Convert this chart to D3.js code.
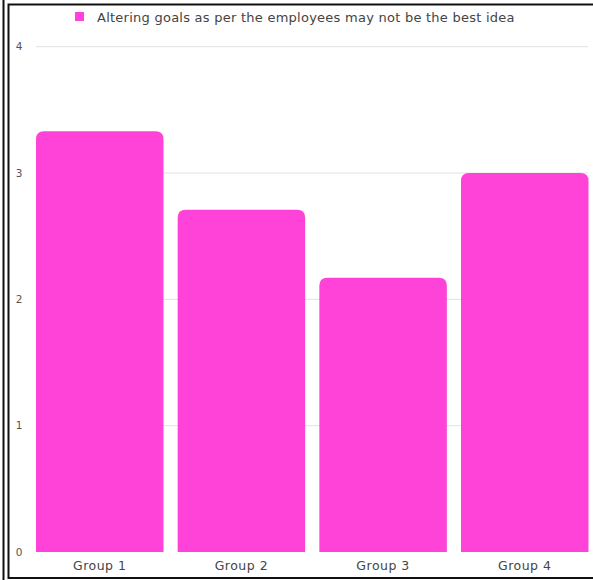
<!DOCTYPE html>
<html><head><meta charset="utf-8">
<script src="https://cdn.jsdelivr.net/npm/d3@7"></script>
<style>html,body{margin:0;padding:0;background:#fff;}svg{display:block;}</style>
</head><body>
<script>
const categories = ["Group 1", "Group 2", "Group 3", "Group 4"];
const values = [3.33, 2.71, 2.17, 3.0];
const seriesName = "Altering goals as per the employees may not be the best idea";
const yTicks = [0, 1, 2, 3, 4];

const W = 593, H = 580;
const FONT = "DejaVu Sans, Verdana, sans-serif";
const svg = d3.select("body").append("svg").attr("width", W).attr("height", H);

// borders
svg.append("line").attr("x1", 3.5).attr("x2", 3.5).attr("y1", 0).attr("y2", H).attr("stroke", "#111").attr("stroke-width", 2);
svg.append("path").attr("d", `M${W + 5},4.5 H8.5 V578 H${W + 5}`).attr("fill", "none").attr("stroke", "#111").attr("stroke-width", 2);

const x = d3.scaleBand().domain(categories).range([36, 588.5]).paddingInner(0.1).paddingOuter(0);
const y = d3.scaleLinear().domain([0, 4]).range([552, 46.7]);

// gridlines
svg.append("g").selectAll("line").data(yTicks.filter(d => d > 0)).join("line")
  .attr("x1", 36).attr("x2", 588).attr("y1", d => y(d)).attr("y2", d => y(d))
  .attr("stroke", "#e2e2e2").attr("stroke-width", 1);

// y labels
svg.append("g").selectAll("text").data(yTicks).join("text")
  .attr("x", 19).attr("y", d => y(d)).attr("dy", "0.35em").attr("text-anchor", "middle")
  .attr("font-family", FONT).attr("font-size", 10.5).attr("fill", "#555")
  .text(d => d);

// bars with rounded tops
const r = 8;
svg.append("g").selectAll("path").data(categories).join("path")
  .attr("d", (c, i) => {
    const x0 = x(c), w = x.bandwidth(), y0 = y(values[i]), yb = y(0);
    return `M${x0},${yb} V${y0 + r} Q${x0},${y0} ${x0 + r},${y0} H${x0 + w - r} Q${x0 + w},${y0} ${x0 + w},${y0 + r} V${yb} Z`;
  })
  .attr("fill", "#ff42d8");

// x labels
svg.append("g").selectAll("text").data(categories).join("text")
  .attr("x", c => x(c) + x.bandwidth() / 2).attr("y", 566).attr("dy", "0.35em").attr("text-anchor", "middle")
  .attr("font-family", FONT).attr("font-size", 12.5).attr("letter-spacing", 0.5).attr("fill", "#444")
  .text(c => c);

// legend
svg.append("rect").attr("x", 75).attr("y", 12).attr("width", 9).attr("height", 9).attr("fill", "#ff42d8");
svg.append("text").attr("x", 97).attr("y", 17).attr("dy", "0.35em")
  .attr("font-family", FONT).attr("font-size", 13).attr("letter-spacing", 0.25).attr("fill", "#444")
  .text(seriesName);
</script>
</body></html>
